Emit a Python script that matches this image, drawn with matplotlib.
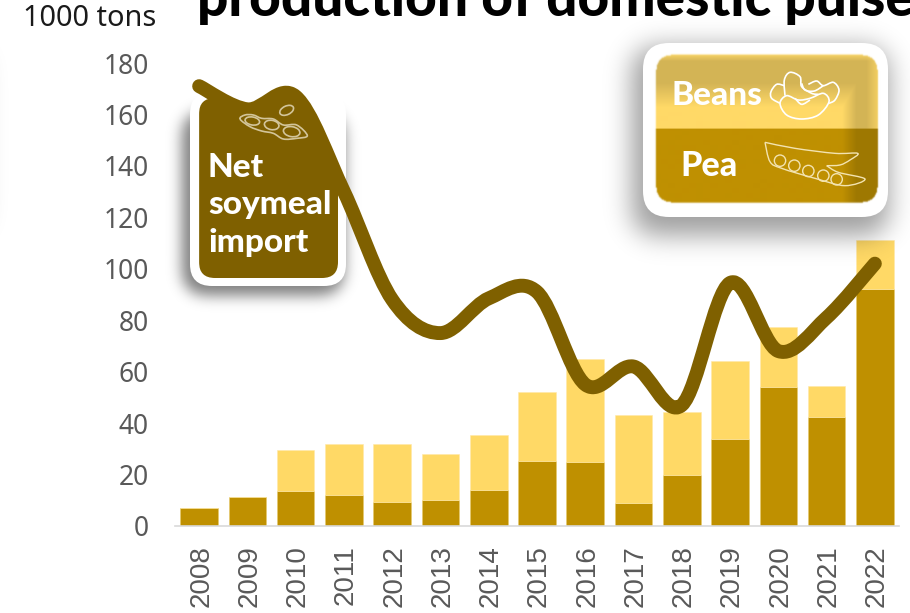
import numpy as np
import matplotlib
matplotlib.use("Agg")
import matplotlib.pyplot as plt
from matplotlib.colors import to_rgb
from matplotlib.path import Path
from matplotlib.patches import PathPatch, FancyBboxPatch, Circle, Ellipse
from matplotlib.transforms import Affine2D, ScaledTranslation

years = [2008, 2009, 2010, 2011, 2012, 2013, 2014, 2015, 2016, 2017, 2018, 2019, 2020, 2021, 2022]
pea = [7, 11.3, 13.5, 12, 9.5, 10.3, 14, 25.3, 25, 9, 20, 34, 54, 42.5, 92]
beans = [0, 0, 16, 20, 22.2, 17.7, 21.5, 26.7, 40, 34, 24.5, 30, 23.5, 12, 19]
soymeal = [171, 162, 167, 130, 88, 75, 88.5, 91, 55, 62, 47, 94.5, 68, 81, 102]
y_ticks = [0, 20, 40, 60, 80, 100, 120, 140, 160, 180]

W, H = 910, 613
C_PEA = "#BF9000"
C_BEANS = "#FFD966"
C_LINE = "#7F6000"
C_GREY = "#595959"

fig = plt.figure(figsize=(W / 100, H / 100), dpi=100)
ax = fig.add_axes([175 / W, (H - 526) / H, 724 / W, 463 / H])
ax.patch.set_visible(False)

# pixel coordinates, y down, for the callouts and icons
px = Affine2D().scale(1, -1).translate(0, H)
yy, xx = np.mgrid[0:H, 0:W]


def rounded_mask(x0, y0, x1, y1, r):
    dx = np.maximum(np.maximum(x0 + r - xx, xx - (x1 - r)), 0)
    dy = np.maximum(np.maximum(y0 + r - yy, yy - (y1 - r)), 0)
    return (dx ** 2 + dy ** 2 <= r ** 2).astype(float)


def gauss_blur(a, sigma):
    fy = np.fft.fftfreq(a.shape[0])[:, None]
    fx = np.fft.rfftfreq(a.shape[1])[None, :]
    g = np.exp(-2 * (np.pi * sigma) ** 2 * (fx ** 2 + fy ** 2))
    return np.fft.irfft2(np.fft.rfft2(a) * g, s=a.shape)


def smooth_path(pts, closed=False):
    # catmull-rom through the points, written as cubic beziers
    pts = np.asarray(pts, dtype=float)
    n = len(pts)
    verts = [pts[0]]
    codes = [Path.MOVETO]
    last = n if closed else n - 1
    for i in range(last):
        if closed:
            p0, p1, p2, p3 = pts[(i - 1) % n], pts[i], pts[(i + 1) % n], pts[(i + 2) % n]
        else:
            p0, p1, p2, p3 = pts[max(i - 1, 0)], pts[i], pts[i + 1], pts[min(i + 2, n - 1)]
        verts += [p1 + (p2 - p0) / 6, p2 - (p3 - p1) / 6, p2]
        codes += [Path.CURVE4] * 3
    return Path(np.array(verts), codes)


def add_outline(pts, color, lw=1.1, closed=False, origin=(0, 0)):
    p = np.asarray(pts, dtype=float) / 3 + origin
    ax.add_patch(PathPatch(smooth_path(p, closed), fc="none", ec=color, lw=lw,
                           transform=px, clip_on=False, zorder=8))


def add_box(x0, y0, x1, y1, r, color, z):
    box = FancyBboxPatch((x0 + r, y0 + r), x1 - x0 - 2 * r, y1 - y0 - 2 * r,
                         boxstyle=f"round,pad={r},rounding_size={r}", fc=color, ec="none",
                         transform=px, clip_on=False, zorder=z)
    ax.add_patch(box)
    return box


def add_layer(rgba, z):
    ax.imshow(rgba, extent=(-0.5, W - 0.5, H - 0.5, -0.5), transform=px, origin="upper", aspect="auto",
              interpolation="bilinear", zorder=z, clip_on=False)


# stacked bars
x = np.arange(len(years))
ax.bar(x, pea, width=0.78, color=C_PEA, edgecolor="#E8C96A", linewidth=0.4, zorder=2)
ax.bar(x, beans, bottom=pea, width=0.78, color=C_BEANS, edgecolor="#FFE9A8", linewidth=0.4, zorder=2)

ax.set_xticks(x)
ax.set_xticklabels(years, rotation=90, fontsize=20, color=C_GREY, family="Liberation Sans")
ax.set_yticks(y_ticks)
ax.set_yticklabels(y_ticks, fontsize=19, color=C_GREY, family="Noto Sans")
ax.tick_params(axis="x", length=0, pad=14)
ax.tick_params(axis="y", length=0, pad=19)
nudge = ScaledTranslation(2 / 100, 0, fig.dpi_scale_trans)
for lab in ax.get_xticklabels():
    lab.set_transform(lab.get_transform() + nudge)
for s in ["top", "right", "left"]:
    ax.spines[s].set_visible(False)
ax.spines["bottom"].set_color("#D9D9D9")
ax.spines["bottom"].set_linewidth(1.2)

# soft shadows under both white boxes
shadow = np.zeros((H, W, 4))
shadow[..., 3] = np.clip(0.38 * gauss_blur(rounded_mask(632, 48, 888, 236, 22), 13)
                         + 0.50 * gauss_blur(rounded_mask(182, 112, 344, 296, 22), 7), 0, 1)
add_layer(shadow, 3)

add_box(190, 92, 346, 286, 22, "white", 4)
add_box(643, 43, 888, 217, 26, "white", 4)

# soymeal line, smoothed, with the callout filled in underneath it
line_path = smooth_path(np.column_stack([x, soymeal]))
fill_path = Path(np.vstack([line_path.vertices, [[14, 0], [0, 0], [0, soymeal[0]]]]),
                 line_path.codes.tolist() + [Path.LINETO, Path.LINETO, Path.CLOSEPOLY])
clip_box = add_box(199, 98, 338, 278, 16, "none", 5)
under = PathPatch(fill_path, fc=C_LINE, ec="none", zorder=5)
ax.add_patch(under)
under.set_clip_path(clip_box)
ax.add_patch(PathPatch(line_path, fc="none", ec=C_LINE, lw=10, capstyle="round", joinstyle="round",
                       zorder=7, clip_on=False))

# legend card, beans above pea, with the shading that falls across it
half_y = 129.5
card_mask = gauss_blur(rounded_mask(656, 56, 877, 203, 15), 0.6)
band_top = np.clip((108 - yy) / 24, 0, 1) * np.clip((yy - 54) / 8, 0, 1) * (yy < half_y)
band_right = np.clip((xx - 842) / 14, 0, 1) * np.clip((yy - 64) / 14, 0, 1)
fade = np.where(yy < half_y, np.clip((882 - xx) / 16, 0, 1), 1)
dark = 1 - 0.17 * np.maximum(band_top, band_right) * fade
card = np.zeros((H, W, 4))
card[yy < half_y, :3] = to_rgb(C_BEANS)
card[yy >= half_y, :3] = to_rgb(C_PEA)
card[..., :3] *= dark[..., None]
card[..., 3] = np.clip(card_mask, 0, 1)
add_layer(card, 5)

ax.set_xlim(-0.5, 14.5)
ax.set_ylim(0, 180)

# bean icon
icon_o = (755, 65)
add_outline([(75, 115), (95, 92), (130, 105), (165, 100), (205, 85), (222, 110), (190, 150), (140, 162), (95, 150)],
            "white", closed=True, origin=icon_o, lw=1.2)
add_outline([(90, 92), (88, 45), (105, 22), (135, 35), (140, 65), (170, 85), (190, 88)], "white", origin=icon_o, lw=1.2)
add_outline([(75, 115), (50, 100), (48, 80), (65, 58), (88, 62)], "white", origin=icon_o, lw=1.2)
add_outline([(160, 58), (185, 48), (205, 62), (235, 52), (252, 75), (240, 105), (222, 115)], "white", origin=icon_o, lw=1.2)
add_outline([(120, 100), (140, 118), (165, 105)], "white", origin=icon_o, lw=1.2)
add_outline([(140, 55), (150, 75), (178, 78), (205, 62)], "white", origin=icon_o, lw=1.2)

# pea pod icon
add_outline([(30, 232), (120, 250), (240, 265), (308, 265), (285, 285), (255, 300), (215, 302)],
            "#F3E3B0", origin=icon_o, lw=1.0)
add_outline([(30, 232), (45, 290), (80, 310), (180, 340), (270, 362), (330, 342), (250, 322), (215, 302)],
            "#F3E3B0", origin=icon_o, lw=1.0)
for cx, cy in [(75, 287), (118, 302), (160, 318), (205, 332), (245, 343)]:
    ax.add_patch(Circle((755 + cx / 3, 65 + cy / 3), 17 / 3, fc="none", ec="#F3E3B0", lw=1.0,
                        transform=px, clip_on=False, zorder=8))

# soybean pod icon
soy_o = (230, 95)
add_outline([(30, 72), (45, 60), (70, 60), (95, 70), (130, 72), (160, 90), (200, 90), (232, 122),
             (200, 130), (160, 132), (130, 115), (95, 108), (60, 95)],
            "#D3C59A", closed=True, origin=soy_o, lw=1.2)
for cx, cy, w, h, ang in [(67, 78, 44, 24, 10), (125, 90, 44, 28, 10), (185, 110, 50, 30, 10), (170, 46, 44, 26, 155)]:
    ax.add_patch(Ellipse((230 + cx / 3, 95 + cy / 3), w / 3, h / 3, angle=ang, fc="none", ec="#D3C59A", lw=1.2,
                         transform=px, clip_on=False, zorder=8))

# text
bold = dict(family="Lato", fontweight="black", color="white", transform=px, zorder=9, clip_on=False,
            ha="left", va="baseline")
ax.text(208, 177, "Net", fontsize=24, **bold)
ax.text(208, 214, "soymeal", fontsize=24, **bold)
ax.text(208, 252, "import", fontsize=24, **bold)
ax.text(672, 105, "Beans", fontsize=24, **bold)
ax.text(680, 176, "Pea", fontsize=24.5, **bold)

ax.text(197, 16, "production of domestic pulses", fontsize=39.6, family="Lato", fontweight="black",
        color="black", ha="left", va="baseline", transform=px, zorder=9, clip_on=False)
ax.text(23, 26, "1000 tons", fontsize=20.8, family="Noto Sans", color="#1A1A1A", ha="left", va="baseline",
        transform=px, zorder=9, clip_on=False)

fig.savefig("out.png", dpi=100)
